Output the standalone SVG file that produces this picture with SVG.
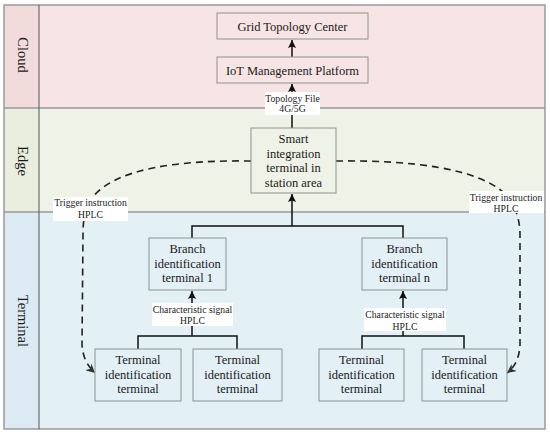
<svg xmlns="http://www.w3.org/2000/svg" width="550" height="435" viewBox="0 0 550 435">
<style>
text{font-family:'Liberation Serif','Tinos','Times New Roman','DejaVu Serif',serif;fill:#1a1a1a;text-anchor:middle}
.t{font-size:12.5px}
.s{font-size:9.7px}
.b{font-size:14.5px}
.box{stroke:#8a9494;stroke-width:1}
.ln{fill:none;stroke:#111;stroke-width:1.5}
.dash{fill:none;stroke:#222;stroke-width:1.6;stroke-dasharray:7,5}
.lbl{fill:#fff}
</style>
<defs>
<marker id="ah" viewBox="0 0 10 10" refX="10" refY="5" markerWidth="8" markerHeight="8" markerUnits="userSpaceOnUse" orient="auto"><path d="M0,0 L10,5 L0,10 L2,5 Z" fill="#111"/></marker>
<marker id="ahd" viewBox="0 0 10 10" refX="10" refY="5" markerWidth="9" markerHeight="9" markerUnits="userSpaceOnUse" orient="auto"><path d="M0,0 L10,5 L0,10 L3,5 Z" fill="#333"/></marker>
</defs>
<g id="bands">
<rect x="4" y="5" width="541" height="103" fill="#f6e5e4"/>
<rect x="4" y="5" width="35" height="103" fill="#f2dbdb"/>
<rect x="4" y="108" width="541" height="104" fill="#eff2e6"/>
<rect x="4" y="108" width="35" height="104" fill="#e9eedf"/>
<rect x="4" y="212" width="541" height="217" fill="#e3f0f6"/>
<rect x="4" y="212" width="35" height="217" fill="#dcebf3"/>
<g fill="none" stroke="#9a9a9a" stroke-width="1.5">
<rect x="4" y="5" width="541" height="424"/>
<line x1="4" y1="108" x2="545" y2="108"/>
<line x1="4" y1="212" x2="545" y2="212"/>
</g>
<line x1="39" y1="5" x2="39" y2="429" stroke="#555" stroke-width="1"/>
<text class="b" transform="translate(18,55) rotate(90)">Cloud</text>
<text class="b" transform="translate(18,161) rotate(90)">Edge</text>
<text class="b" transform="translate(18,321) rotate(90)">Terminal</text>
</g>
<g id="connectors">
<line class="ln" x1="292" y1="57" x2="292" y2="40" marker-end="url(#ah)"/>
<line class="ln" x1="292" y1="128" x2="292" y2="84" marker-end="url(#ah)"/>
<polyline class="ln" points="192,238 192,226 403,226 403,238"/>
<line class="ln" x1="292" y1="226" x2="292" y2="194" marker-end="url(#ah)"/>
<polyline class="ln" points="138,349 138,336 237,336 237,349"/>
<line class="ln" x1="192" y1="336" x2="192" y2="291" marker-end="url(#ah)"/>
<polyline class="ln" points="362,349 362,336 464,336 464,349"/>
<line class="ln" x1="403" y1="336" x2="403" y2="291" marker-end="url(#ah)"/>
<path class="dash" d="M251,161 C180,160 115,168 92,198 C84,210 83,222 83,235 L82,345 Q83,362 95,373" marker-end="url(#ahd)"/>
<path class="dash" d="M336,161 C410,160 480,168 506,195 C517,208 520,222 520,235 L520,345 Q519,364 507,373" marker-end="url(#ahd)"/>
<rect class="lbl" x="265" y="92" width="55" height="23"/>
<text class="s" x="292.5" y="101.5">Topology File</text>
<text class="s" x="292.5" y="112">4G/5G</text>
<rect class="lbl" x="53" y="197" width="75" height="24"/>
<text class="s" x="90.5" y="205.5">Trigger instruction</text>
<text class="s" x="90.5" y="218">HPLC</text>
<rect class="lbl" x="469" y="191" width="75" height="22"/>
<text class="s" x="506" y="200.5">Trigger instruction</text>
<text class="s" x="506" y="212">HPLC</text>
<rect class="lbl" x="152" y="303" width="81" height="23"/>
<text class="s" x="192.5" y="312.5">Characteristic signal</text>
<text class="s" x="192.5" y="323.5">HPLC</text>
<rect class="lbl" x="364" y="308" width="82" height="23"/>
<text class="s" x="405" y="317.5">Characteristic signal</text>
<text class="s" x="405" y="329.5">HPLC</text>
</g>
<g id="grid-topology-center">
<rect class="box" x="217" y="13" width="151" height="26" fill="#f6e5e4"/>
<text class="t" x="292.5" y="30.5">Grid Topology Center</text>
</g>
<g id="iot-platform">
<rect class="box" x="217" y="57" width="151" height="26" fill="#f6e5e4"/>
<text class="t" x="292.5" y="74.5">IoT Management Platform</text>
</g>
<g id="smart-terminal">
<rect class="box" x="251" y="128" width="85" height="65" fill="#eff2e6"/>
<text class="t" x="293.5" y="143">Smart</text>
<text class="t" x="293.5" y="157.5">integration</text>
<text class="t" x="293.5" y="172">terminal in</text>
<text class="t" x="293.5" y="186.5">station area</text>
</g>
<g id="branch-1">
<rect class="box" x="149" y="238" width="77" height="52" fill="#e3f0f6"/>
<text class="t" x="187.5" y="253">Branch</text>
<text class="t" x="187.5" y="267.5">identification</text>
<text class="t" x="187.5" y="282">terminal 1</text>
</g>
<g id="branch-n">
<rect class="box" x="362" y="238" width="85" height="52" fill="#e3f0f6"/>
<text class="t" x="404.5" y="253">Branch</text>
<text class="t" x="404.5" y="267.5">identification</text>
<text class="t" x="404.5" y="282">terminal n</text>
</g>
<g id="terminal-1">
<rect class="box" x="95" y="349" width="86" height="52" fill="#e3f0f6"/>
<text class="t" x="138" y="364">Terminal</text>
<text class="t" x="138" y="378.5">identification</text>
<text class="t" x="138" y="393">terminal</text>
</g>
<g id="terminal-2">
<rect class="box" x="193" y="349" width="89" height="52" fill="#e3f0f6"/>
<text class="t" x="237.5" y="364">Terminal</text>
<text class="t" x="237.5" y="378.5">identification</text>
<text class="t" x="237.5" y="393">terminal</text>
</g>
<g id="terminal-3">
<rect class="box" x="319" y="349" width="85" height="52" fill="#e3f0f6"/>
<text class="t" x="361.5" y="364">Terminal</text>
<text class="t" x="361.5" y="378.5">identification</text>
<text class="t" x="361.5" y="393">terminal</text>
</g>
<g id="terminal-4">
<rect class="box" x="422" y="349" width="85" height="52" fill="#e3f0f6"/>
<text class="t" x="464.5" y="364">Terminal</text>
<text class="t" x="464.5" y="378.5">identification</text>
<text class="t" x="464.5" y="393">terminal</text>
</g>
</svg>
